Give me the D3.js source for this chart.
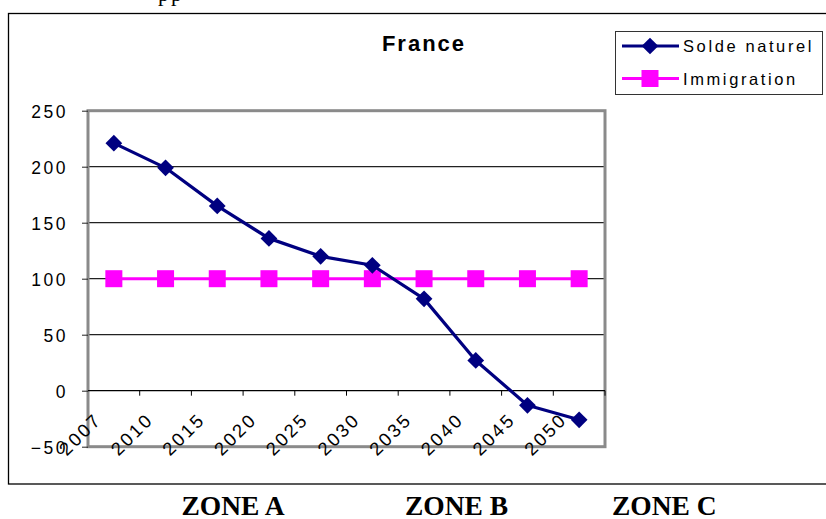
<!DOCTYPE html>
<html>
<head>
<meta charset="utf-8">
<script src="https://cdn.jsdelivr.net/npm/d3@7"></script>
<style>
  html, body { margin: 0; padding: 0; background: #fff; }
  svg { display: block; }
</style>
</head>
<body>
<svg id="chart" width="826" height="519"></svg>
<script>
// Population change, France: natural balance vs. immigration (thousands)
const categories = ["2007", "2010", "2015", "2020", "2025", "2030", "2035", "2040", "2045", "2050"];
const soldeNaturel = [221, 199, 165, 136, 120, 112, 82, 27, -13, -26];
const immigration = [100, 100, 100, 100, 100, 100, 100, 100, 100, 100];
const yTicks = [-50, 0, 50, 100, 150, 200, 250];
const gridValues = [50, 100, 150, 200];
const seriesNames = ["Solde naturel", "Immigration"];
const zones = ["ZONE A", "ZONE B", "ZONE C"];

const svg = d3.select("#chart");
const sans = "'Liberation Sans', Arial, sans-serif";
const serif = "'Liberation Serif', 'Times New Roman', serif";

const plot = { left: 88, right: 605, top: 110.7, bottom: 446.7 };

const x = d3.scaleBand().domain(categories).range([plot.left, plot.right]).padding(0);
const y = d3.scaleLinear().domain([-50, 250]).range([plot.bottom, plot.top]);
const cx = c => x(c) + x.bandwidth() / 2;

// text fragment from the surrounding page, cut off at the top edge
svg.append("text").attr("x", 158).attr("y", 0.5)
  .attr("font-family", serif).attr("font-size", 22).attr("letter-spacing", 2)
  .text("pp");

// outer chart frame
svg.append("rect")
  .attr("x", 8.5).attr("y", 13.5).attr("width", 840).attr("height", 470.5)
  .attr("fill", "#fff").attr("stroke", "#000").attr("stroke-width", 1.3);

// plot area
svg.append("rect")
  .attr("x", plot.left).attr("y", plot.top)
  .attr("width", plot.right - plot.left).attr("height", plot.bottom - plot.top)
  .attr("fill", "#fff");

// horizontal gridlines
svg.append("g").selectAll("line").data(gridValues).join("line")
  .attr("x1", plot.left).attr("x2", plot.right)
  .attr("y1", d => y(d)).attr("y2", d => y(d))
  .attr("stroke", "#222").attr("stroke-width", 1.2);

// plot border (grey)
svg.append("rect")
  .attr("x", plot.left).attr("y", plot.top)
  .attr("width", plot.right - plot.left).attr("height", plot.bottom - plot.top)
  .attr("fill", "none").attr("stroke", "#8a8a8a").attr("stroke-width", 3);

// y axis
const yAxis = svg.append("g").attr("transform", `translate(${plot.left},0)`)
  .call(d3.axisLeft(y).tickValues(yTicks).tickSize(6).tickPadding(14).tickFormat(d3.format("d")));
yAxis.select(".domain").remove();
yAxis.selectAll(".tick line").attr("stroke", "#222");
yAxis.selectAll(".tick text")
  .attr("font-family", sans).attr("font-size", 17.5).attr("letter-spacing", 2.5)
  .attr("fill", "#000").attr("dy", "0.36em");

// category axis along the zero line, ticks between categories
const zeroY = y(0);
svg.append("line")
  .attr("x1", plot.left).attr("x2", plot.right)
  .attr("y1", zeroY).attr("y2", zeroY)
  .attr("stroke", "#000").attr("stroke-width", 1.3);
const tickPos = categories.map(c => x(c)).concat([x(categories[categories.length - 1]) + x.bandwidth()]);
svg.append("g").selectAll("line").data(tickPos.slice(1)).join("line")
  .attr("x1", d => d).attr("x2", d => d)
  .attr("y1", zeroY).attr("y2", zeroY + 5)
  .attr("stroke", "#000").attr("stroke-width", 1);

svg.append("g").selectAll("text").data(categories).join("text")
  .attr("transform", c => `translate(${cx(c) - 11},${zeroY + 30}) rotate(-45)`)
  .attr("text-anchor", "end")
  .attr("font-family", sans).attr("font-size", 18.5).attr("letter-spacing", 2.5)
  .attr("fill", "#000")
  .text(c => c);

// series lines
const line = d3.line().x((d, i) => cx(categories[i])).y(d => y(d));
const navy = "#000080", magenta = "#ff00ff";

svg.append("path").datum(immigration)
  .attr("d", line).attr("fill", "none")
  .attr("stroke", magenta).attr("stroke-width", 3);
svg.append("g").selectAll("rect").data(immigration).join("rect")
  .attr("x", (d, i) => cx(categories[i]) - 8.5).attr("y", d => y(d) - 8.5)
  .attr("width", 17).attr("height", 17).attr("fill", magenta);

svg.append("path").datum(soldeNaturel)
  .attr("d", line).attr("fill", "none")
  .attr("stroke", navy).attr("stroke-width", 3.2).attr("stroke-linejoin", "round");
const diamond = d3.symbol().type(d3.symbolSquare).size(140);
svg.append("g").selectAll("path").data(soldeNaturel).join("path")
  .attr("d", diamond)
  .attr("transform", (d, i) => `translate(${cx(categories[i])},${y(d)}) rotate(45)`)
  .attr("fill", navy);

// title
svg.append("text").attr("x", 424).attr("y", 51)
  .attr("text-anchor", "middle")
  .attr("font-family", sans).attr("font-weight", "bold").attr("font-size", 22)
  .attr("letter-spacing", 2)
  .text("France");

// legend
const lg = svg.append("g");
lg.append("rect").attr("x", 615.5).attr("y", 31.5).attr("width", 207).attr("height", 63)
  .attr("fill", "#fff").attr("stroke", "#333").attr("stroke-width", 1);
const legendRows = [
  { name: seriesNames[0], color: navy, y: 46, mark: "diamond" },
  { name: seriesNames[1], color: magenta, y: 78.5, mark: "square" }
];
legendRows.forEach(r => {
  lg.append("line").attr("x1", 622).attr("x2", 679).attr("y1", r.y).attr("y2", r.y)
    .attr("stroke", r.color).attr("stroke-width", 3);
  if (r.mark === "diamond") {
    lg.append("path").attr("d", diamond)
      .attr("transform", `translate(650,${r.y}) rotate(45)`).attr("fill", r.color);
  } else {
    lg.append("rect").attr("x", 650 - 8.5).attr("y", r.y - 8.5)
      .attr("width", 17).attr("height", 17).attr("fill", r.color);
  }
  lg.append("text").attr("x", 683).attr("y", r.y + 6)
    .attr("font-family", sans).attr("font-size", 16.5).attr("letter-spacing", 2.6)
    .text(r.name);
});

// zone captions below the chart
const zoneX = [181.5, 405, 612];
svg.append("g").selectAll("text").data(zones).join("text")
  .attr("x", (d, i) => zoneX[i]).attr("y", 515)
  .attr("font-family", serif).attr("font-weight", "bold").attr("font-size", 27.5)
  .text(d => d);
</script>
</body>
</html>
